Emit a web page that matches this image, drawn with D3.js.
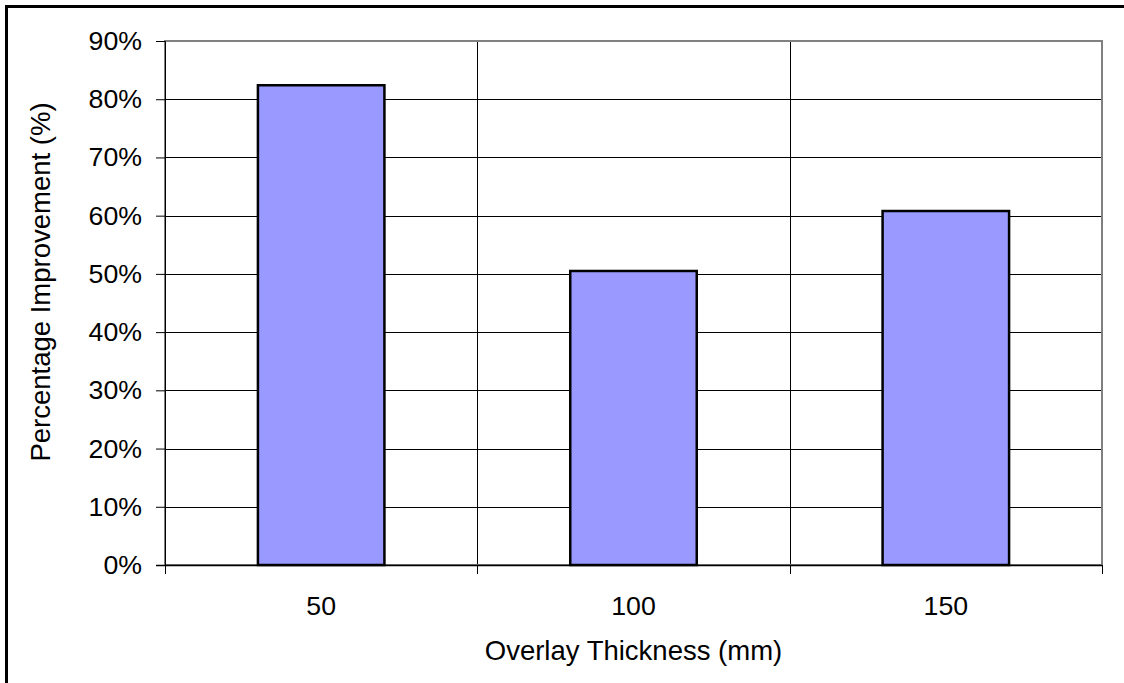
<!DOCTYPE html>
<html>
<head>
<meta charset="utf-8">
<script src="https://cdn.jsdelivr.net/npm/d3@7"></script>
<style>
  html, body { margin: 0; padding: 0; background: #fff; }
  svg { display: block; font-family: "Liberation Sans", Arial, sans-serif; }
</style>
</head>
<body>
<svg id="chart" width="1124" height="683"></svg>
<script>
// Overlay thickness categories and measured improvement
const categories = ["50", "100", "150"];
const improvement = [82.4, 50.5, 60.8];
const yTicks = [0, 10, 20, 30, 40, 50, 60, 70, 80, 90];

const FONT = 26.7;
const TITLE_FONT = 27.5;
const svg = d3.select("#chart");
const plot = { left: 165, top: 41, right: 1102, bottom: 565 };

const x = d3.scaleBand()
  .domain(categories)
  .range([plot.left, plot.right])
  .paddingInner(0)
  .paddingOuter(0);

const y = d3.scaleLinear()
  .domain([0, 90])
  .range([plot.bottom, plot.top]);

// Outer frame (left and top edges)
svg.append("path")
  .attr("d", `M6.5,${683} V6.5 H1124`)
  .attr("fill", "none")
  .attr("stroke", "#000")
  .attr("stroke-width", 3);

// Horizontal gridlines
svg.append("g")
  .selectAll("line")
  .data(yTicks.filter(d => d > 0 && d < 90))
  .join("line")
  .attr("x1", plot.left).attr("x2", plot.right)
  .attr("y1", d => Math.round(y(d)) + 0.5).attr("y2", d => Math.round(y(d)) + 0.5)
  .attr("stroke", "#000").attr("stroke-width", 1);

// Vertical gridlines at category boundaries
svg.append("g")
  .selectAll("line")
  .data(categories.slice(1))
  .join("line")
  .attr("x1", d => Math.round(x(d)) + 0.5).attr("x2", d => Math.round(x(d)) + 0.5)
  .attr("y1", plot.top).attr("y2", plot.bottom)
  .attr("stroke", "#000").attr("stroke-width", 1);

// Plot area border
svg.append("rect")
  .attr("x", plot.left).attr("y", plot.top)
  .attr("width", plot.right - plot.left).attr("height", plot.bottom - plot.top)
  .attr("fill", "none")
  .attr("stroke", "#808080").attr("stroke-width", 2);

// Bars
const barWidth = x.bandwidth() * 0.405;
svg.append("g")
  .selectAll("rect")
  .data(categories.map((c, i) => ({ c, v: improvement[i] })))
  .join("rect")
  .attr("x", d => x(d.c) + (x.bandwidth() - barWidth) / 2)
  .attr("y", d => y(d.v))
  .attr("width", barWidth)
  .attr("height", d => y(0) - y(d.v))
  .attr("fill", "#9999FF")
  .attr("stroke", "#000")
  .attr("stroke-width", 2.5);

// Y axis
const yAxis = d3.axisLeft(y)
  .tickValues(yTicks)
  .tickFormat(d => d + "%")
  .tickSize(9)
  .tickPadding(14);
const gy = svg.append("g")
  .attr("transform", `translate(${plot.left},0)`)
  .call(yAxis);
gy.attr("font-size", null).attr("font-family", null);
gy.select(".domain").attr("stroke", "#000").attr("stroke-width", 1);
gy.selectAll(".tick line").attr("stroke", "#000");
gy.selectAll(".tick text")
  .attr("font-size", FONT)
  .attr("fill", "#000");

// X axis (ticks at category boundaries)
const gx = svg.append("g")
  .attr("transform", `translate(0,${plot.bottom})`);
gx.append("line")
  .attr("x1", plot.left - 9).attr("x2", plot.right)
  .attr("y1", 0.5).attr("y2", 0.5)
  .attr("stroke", "#000").attr("stroke-width", 1.5);
const boundaries = categories.map(c => x(c)).concat([x(categories[categories.length - 1]) + x.bandwidth()]);
gx.selectAll("line.tk")
  .data(boundaries)
  .join("line")
  .attr("class", "tk")
  .attr("x1", d => Math.round(d) + 0.5).attr("x2", d => Math.round(d) + 0.5)
  .attr("y1", 0).attr("y2", 9)
  .attr("stroke", "#000");
gx.selectAll("text")
  .data(categories)
  .join("text")
  .attr("x", d => x(d) + x.bandwidth() / 2)
  .attr("y", 50)
  .attr("text-anchor", "middle")
  .attr("font-size", FONT)
  .attr("fill", "#000")
  .text(d => d);

// Axis titles
svg.append("text")
  .attr("x", (plot.left + plot.right) / 2)
  .attr("y", 660)
  .attr("text-anchor", "middle")
  .attr("font-size", TITLE_FONT)
  .attr("fill", "#000")
  .text("Overlay Thickness (mm)");

svg.append("text")
  .attr("transform", `translate(50,282) rotate(-90)`)
  .attr("text-anchor", "middle")
  .attr("font-size", TITLE_FONT)
  .attr("fill", "#000")
  .text("Percentage Improvement (%)");
</script>
</body>
</html>
